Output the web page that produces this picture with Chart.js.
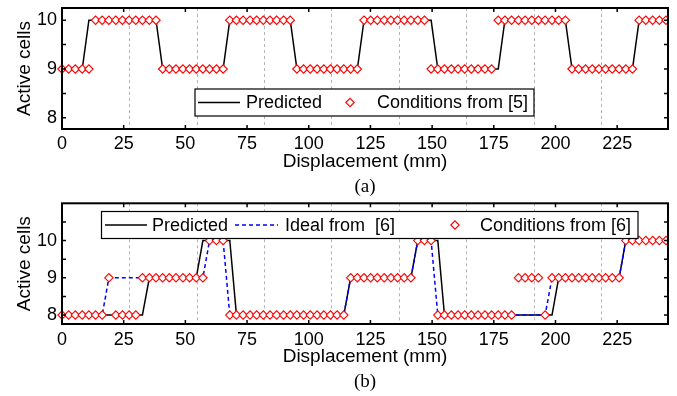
<!DOCTYPE html>
<html>
<head>
<meta charset="utf-8">
<script src="https://cdn.jsdelivr.net/npm/chart.js@4"></script>
<style>
body{margin:0;background:#fff;width:677px;height:396px;position:relative;overflow:hidden}
.caja{position:absolute;left:0;width:677px;height:198px}
.caja canvas{display:block}
.pie{position:absolute;left:0;width:730px;text-align:center;font-family:"Liberation Serif","Times New Roman",serif;font-size:19px;line-height:20px;color:#000}
</style>
</head>
<body>
<div class="caja" style="top:0"><canvas id="graficoA" width="677" height="198"></canvas></div>
<div class="caja" style="top:198px"><canvas id="graficoB" width="677" height="198"></canvas></div>
<div class="pie" style="top:176px">(a)</div>
<div class="pie" style="top:371px">(b)</div>
<script>
// desplazamiento de cada condicion (mm)
var desplazamiento = [0, 2.7, 5.4, 8.2, 10.9, 13.6, 16.3, 19.0, 21.8, 24.5,
    27.2, 29.9, 32.6, 35.4, 38.1, 40.8, 43.5, 46.2, 49.0, 51.7,
    54.4, 57.1, 59.8, 62.6, 65.3, 68.0, 70.7, 73.4, 76.2, 78.9,
    81.6, 84.3, 87.0, 89.8, 92.5, 95.2, 97.9, 100.6, 103.4, 106.1,
    108.8, 111.5, 114.2, 117.0, 119.7, 122.4, 125.1, 127.8, 130.6, 133.3,
    136.0, 138.7, 141.4, 144.2, 146.9, 149.6, 152.3, 155.0, 157.8, 160.5,
    163.2, 165.9, 168.6, 171.4, 174.1, 176.8, 179.5, 182.2, 185.0, 187.7,
    190.4, 193.1, 195.8, 198.6, 201.3, 204.0, 206.7, 209.4, 212.2, 214.9,
    217.6, 220.3, 223.0, 225.8, 228.5, 231.2, 233.9, 236.6, 239.4, 242.1, 244.8];

var lineasCelda = [27.3, 54.6, 81.9, 109.2, 136.5, 163.8, 191.1, 218.4];
var ticksX = [0, 25, 50, 75, 100, 125, 150, 175, 200, 225];
var ticksYA = [8, 9, 10];
var ticksYB = [8, 9, 10];

// (a)
var condicionesA = [9, 9, 9, 9, 9,
    10, 10, 10, 10, 10, 10, 10, 10, 10, 10,
    9, 9, 9, 9, 9, 9, 9, 9, 9, 9,
    10, 10, 10, 10, 10, 10, 10, 10, 10, 10,
    9, 9, 9, 9, 9, 9, 9, 9, 9, 9,
    10, 10, 10, 10, 10, 10, 10, 10, 10, 10,
    9, 9, 9, 9, 9, 9, 9, 9, 9, 9,
    10, 10, 10, 10, 10, 10, 10, 10, 10, 10, 10,
    9, 9, 9, 9, 9, 9, 9, 9, 9, 9,
    10, 10, 10, 10, 10];
var predichoA = [9, 9, 9, 9,
    10, 10, 10, 10, 10, 10, 10, 10, 10, 10, 10,
    9, 9, 9, 9, 9, 9, 9, 9, 9, 9,
    10, 10, 10, 10, 10, 10, 10, 10, 10, 10,
    9, 9, 9, 9, 9, 9, 9, 9, 9, 9,
    10, 10, 10, 10, 10, 10, 10, 10, 10, 10, 10,
    9, 9, 9, 9, 9, 9, 9, 9, 9, 9,
    10, 10, 10, 10, 10, 10, 10, 10, 10, 10,
    9, 9, 9, 9, 9, 9, 9, 9, 9, 9,
    10, 10, 10, 10, 10];

// (b)
var condicionesB = [8, 8, 8, 8, 8, 8, 8,
    9,
    8, 8, 8, 8,
    9, 9, 9, 9, 9, 9, 9, 9, 9, 9,
    10, 10, 10,
    8, 8, 8, 8, 8, 8, 8, 8, 8, 8, 8, 8, 8, 8, 8, 8, 8, 8,
    9, 9, 9, 9, 9, 9, 9, 9, 9, 9,
    10, 10, 10,
    8, 8, 8, 8, 8, 8, 8, 8, 8, 8, 8, 8,
    9, 9, 9, 9,
    8,
    9, 9, 9, 9, 9, 9, 9, 9, 9, 9, 9,
    10, 10, 10, 10, 10, 10, 10];
var idealB = [8, 8, 8, 8, 8, 8, 8,
    9, 9, 9, 9, 9, 9, 9, 9, 9, 9, 9, 9, 9, 9, 9,
    10, 10, 10,
    8, 8, 8, 8, 8, 8, 8, 8, 8, 8, 8, 8, 8, 8, 8, 8, 8, 8,
    9, 9, 9, 9, 9, 9, 9, 9, 9, 9,
    10, 10, 10,
    8, 8, 8, 8, 8, 8, 8, 8, 8, 8, 8, 8, 8, 8, 8, 8, 8,
    9, 9, 9, 9, 9, 9, 9, 9, 9, 9, 9,
    10, 10, 10, 10, 10, 10, 10];
var predichoB = [8, 8, 8, 8, 8, 8, 8, 8, 8, 8, 8, 8, 8,
    9, 9, 9, 9, 9, 9, 9, 9,
    10, 10, 10, 10, 10,
    8, 8, 8, 8, 8, 8, 8, 8, 8, 8, 8, 8, 8, 8, 8, 8, 8,
    9, 9, 9, 9, 9, 9, 9, 9, 9, 9,
    10, 10, 10, 10,
    8, 8, 8, 8, 8, 8, 8, 8, 8, 8, 8, 8, 8, 8, 8, 8, 8,
    9, 9, 9, 9, 9, 9, 9, 9, 9, 9,
    10, 10, 10, 10, 10, 10, 10];

var fuente = '"Liberation Sans", Arial, sans-serif';

function puntos(valores) {
    return valores.map(function (v, i) { return {x: desplazamiento[i], y: v}; });
}

function serieCondiciones(nombre, valores) {
    return {
        label: nombre, data: puntos(valores), showLine: false, order: 0,
        pointStyle: 'rectRot', pointRadius: 4.2, pointBorderWidth: 1.1,
        pointBorderColor: '#ff0000', pointBackgroundColor: '#ffffff',
        borderColor: '#ff0000', backgroundColor: '#ffffff',
        clip: {left: false, top: false, right: 0, bottom: false}
    };
}

function serieLinea(nombre, valores, color, guion, orden) {
    return {
        label: nombre, data: puntos(valores), order: orden,
        borderColor: color, borderWidth: 1.5, borderDash: guion,
        pointRadius: 0, tension: 0, fill: false
    };
}

// marco, lineas de celda, ticks hacia adentro y leyenda con caja
var pluginMarco = {
    id: 'marco',
    beforeDatasetsDraw: function (chart) {
        var ctx = chart.ctx, a = chart.chartArea, sx = chart.scales.x;
        ctx.save();
        ctx.strokeStyle = '#b4b4b4';
        ctx.lineWidth = 1;
        ctx.setLineDash([3, 3]);
        lineasCelda.forEach(function (v) {
            var px = Math.round(sx.getPixelForValue(v)) + 0.5;
            ctx.beginPath();
            ctx.moveTo(px, a.top);
            ctx.lineTo(px, a.bottom);
            ctx.stroke();
        });
        ctx.restore();
    },
    afterDatasetsDraw: function (chart, args, opts) {
        var ctx = chart.ctx, a = chart.chartArea;
        var sx = chart.scales.x, sy = chart.scales.y;
        ctx.save();
        ctx.strokeStyle = '#000';
        ctx.lineWidth = 1.5;
        ctx.beginPath();
        sx.ticks.forEach(function (t) {
            var px = sx.getPixelForValue(t.value);
            ctx.moveTo(px, a.bottom); ctx.lineTo(px, a.bottom - 4);
            ctx.moveTo(px, a.top); ctx.lineTo(px, a.top + 4);
        });
        var yt = sy.ticks.map(function (t) { return t.value; });
        var todos = [];
        yt.forEach(function (v) { todos.push(v); todos.push(v + 0.5); });
        todos.forEach(function (v) {
            if (v > sy.max) return;
            var py = sy.getPixelForValue(v);
            ctx.moveTo(a.left, py); ctx.lineTo(a.left + 4, py);
            ctx.moveTo(a.right, py); ctx.lineTo(a.right - 4, py);
        });
        ctx.stroke();
        ctx.lineWidth = 2;
        ctx.strokeRect(a.left, a.top, a.right - a.left, a.bottom - a.top);

        // leyenda
        var ley = opts.leyenda;
        var c = ley.caja;
        ctx.fillStyle = '#fff';
        ctx.fillRect(c[0], c[1], c[2] - c[0], c[3] - c[1]);
        ctx.lineWidth = 1.2;
        ctx.strokeStyle = '#000';
        ctx.strokeRect(c[0], c[1], c[2] - c[0], c[3] - c[1]);
        var ym = (c[1] + c[3]) / 2;
        ctx.font = '18px ' + fuente;
        ctx.textBaseline = 'middle';
        ctx.textAlign = 'left';
        ley.items.forEach(function (it) {
            var ds = chart.data.datasets[it.ds];
            if (ds.showLine === false) {
                var r = ds.pointRadius;
                ctx.setLineDash([]);
                ctx.beginPath();
                ctx.moveTo(it.x0 - r, ym); ctx.lineTo(it.x0, ym - r);
                ctx.lineTo(it.x0 + r, ym); ctx.lineTo(it.x0, ym + r);
                ctx.closePath();
                ctx.fillStyle = ds.pointBackgroundColor;
                ctx.fill();
                ctx.lineWidth = ds.pointBorderWidth;
                ctx.strokeStyle = ds.pointBorderColor;
                ctx.stroke();
            } else {
                ctx.setLineDash(ds.borderDash || []);
                ctx.lineWidth = ds.borderWidth;
                ctx.strokeStyle = ds.borderColor;
                ctx.beginPath();
                ctx.moveTo(it.x0, ym); ctx.lineTo(it.x1, ym);
                ctx.stroke();
            }
            ctx.setLineDash([]);
            ctx.fillStyle = '#000';
            ctx.fillText(ds.label, it.tx, ym + 1);
        });
        ctx.restore();
    }
};

function crearGrafico(id, series, yMin, yMax, ticksY, arriba, altoX, padTick, padTitulo, leyenda) {
    var ctx = document.getElementById(id).getContext('2d');
    return new Chart(ctx, {
        type: 'line',
        data: {datasets: series},
        plugins: [pluginMarco],
        options: {
            responsive: false,
            animation: false,
            devicePixelRatio: 1,
            layout: {padding: {left: 0, right: 9, top: arriba, bottom: 0}},
            plugins: {
                legend: {display: false},
                tooltip: {enabled: false},
                marco: {leyenda: leyenda}
            },
            scales: {
                x: {
                    type: 'linear', min: 0, max: 245.6,
                    afterBuildTicks: function (s) { s.ticks = ticksX.map(function (v) { return {value: v}; }); },
                    afterFit: function (s) { s.height = altoX; s.paddingLeft = 0; s.paddingRight = 0; },
                    grid: {display: false, drawTicks: false},
                    border: {display: false},
                    ticks: {color: '#000', font: {family: fuente, size: 18}, padding: padTick, maxRotation: 0, autoSkip: false},
                    title: {display: true, text: 'Displacement (mm)', color: '#000',
                        font: {family: fuente, size: 19}, padding: {top: 0, bottom: padTitulo}}
                },
                y: {
                    min: yMin, max: yMax,
                    afterBuildTicks: function (s) { s.ticks = ticksY.map(function (v) { return {value: v}; }); },
                    afterFit: function (s) { s.width = 62; s.paddingTop = 0; s.paddingBottom = 0; },
                    grid: {display: false, drawTicks: false},
                    border: {display: false},
                    ticks: {color: '#000', font: {family: fuente, size: 18}, padding: 5},
                    title: {display: true, text: 'Active cells', color: '#000',
                        font: {family: fuente, size: 19}, padding: {top: 13, bottom: 0}}
                }
            }
        }
    });
}

crearGrafico('graficoA', [
    serieCondiciones('Conditions from [5]', condicionesA),
    serieLinea('Predicted', predichoA, '#000000', [], 2)
], 7.77, 10.25, ticksYA, 8, 69, 4, 24.6, {
    caja: [195, 89, 534, 116],
    items: [{ds: 1, x0: 198, x1: 240, tx: 246}, {ds: 0, x0: 350, tx: 377}]
});

crearGrafico('graficoB', [
    serieCondiciones('Conditions from [6]', condicionesB),
    serieLinea('Ideal from  [6]', idealB, '#0000ff', [4, 3], 1),
    serieLinea('Predicted', predichoB, '#000000', [], 2)
], 7.76, 11.0, ticksYB, 5, 72, 5, 27.6, {
    caja: [101.5, 13.5, 638, 40.5],
    items: [{ds: 2, x0: 105, x1: 147, tx: 152}, {ds: 1, x0: 235, x1: 278, tx: 285}, {ds: 0, x0: 455, tx: 480}]
});
</script>
</body>
</html>
